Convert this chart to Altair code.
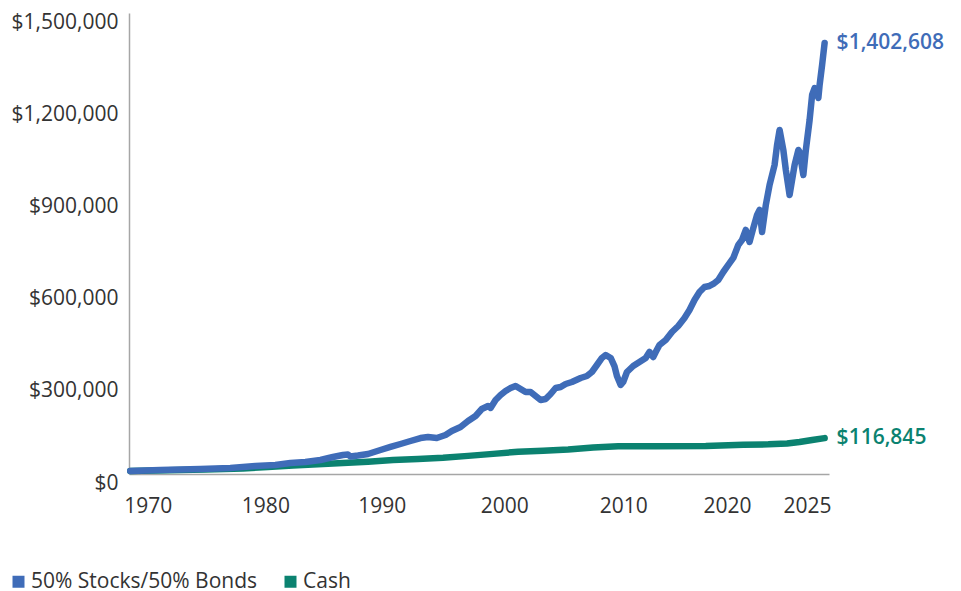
import altair as alt
import pandas as pd

series_names = ["50% Stocks/50% Bonds", "Cash"]
series_colors = ["#3F6CB8", "#0B8270"]

blue_years = [1970.0, 1972.4, 1975.6, 1978.0, 1980.0, 1981.6, 1982.8, 1984.0, 1985.2, 1986.2,
              1987.0, 1987.4, 1987.6, 1988.2, 1989.0, 1990.0, 1990.8, 1991.6, 1992.4, 1993.2,
              1993.8, 1994.5, 1995.2, 1995.7, 1996.4, 1997.0, 1997.6, 1998.1, 1998.6, 1998.8,
              1999.2, 1999.6, 2000.0, 2000.4, 2000.8, 2001.2, 2001.6, 2002.0, 2002.4, 2002.8,
              2003.2, 2003.6, 2004.0, 2004.4, 2004.8, 2005.3, 2006.0, 2006.5, 2006.9, 2007.3,
              2007.7, 2008.0, 2008.4, 2008.7, 2008.9, 2009.2, 2009.4, 2009.7, 2010.2, 2010.7,
              2011.2, 2011.5, 2011.8, 2012.0, 2012.3, 2012.8, 2013.3, 2013.8, 2014.3, 2014.7,
              2015.1, 2015.5, 2015.9, 2016.3, 2016.6, 2017.0, 2017.4, 2017.8, 2018.2, 2018.6,
              2018.9, 2019.2, 2019.5, 2019.8, 2020.1, 2020.3, 2020.5, 2020.8, 2021.1, 2021.5,
              2021.7, 2021.9, 2022.2, 2022.4, 2022.7, 2022.9, 2023.1, 2023.4, 2023.5, 2023.8,
              2024.0, 2024.3, 2024.5, 2024.7, 2025.0, 2025.1, 2025.3, 2025.5]
blue_values = [10000, 13000, 16300, 19500, 26000, 29300, 35800, 39000, 45600, 55300,
               61800, 63500, 57000, 60000, 65100, 78100, 87900, 97600, 107400, 117100,
               120400, 117100, 126900, 139900, 152900, 172500, 188700, 211500, 221300, 215000,
               240800, 257100, 270100, 279800, 286400, 276600, 266800, 266800, 253800, 240800,
               244000, 260300, 279800, 283100, 292900, 299400, 312400, 318900, 331900, 354700,
               377500, 387200, 377500, 351400, 318900, 289600, 299400, 331900, 351400, 364400,
               377500, 397000, 380700, 397000, 419800, 436000, 462100, 481600, 507600, 533700,
               566200, 592200, 608500, 611800, 618300, 631300, 657300, 680100, 702900, 745200,
               761400, 794000, 754900, 800500, 842800, 859100, 787500, 875300, 940400, 1005500,
               1070600, 1119400, 1054300, 989200, 907900, 956700, 1005500, 1054300, 1047800, 973000,
               1054300, 1151900, 1233300, 1256000, 1223500, 1265800, 1330900, 1402608]

cash_years = [1970.0, 1973.0, 1976.0, 1979.0, 1981.0, 1983.0, 1985.0, 1987.0, 1989.0, 1991.0,
              1993.0, 1995.0, 1997.0, 1999.0, 2001.0, 2003.0, 2005.0, 2007.0, 2009.0, 2012.0,
              2016.0, 2019.0, 2021.0, 2022.5, 2023.5, 2024.5, 2025.5]
cash_values = [10000, 12000, 14800, 18000, 22500, 27500, 31500, 35500, 40000, 45500,
               49000, 53000, 59000, 65500, 72500, 76000, 79500, 86000, 90000, 90500,
               91500, 95500, 96500, 99000, 104000, 110500, 116845]

y_ticks = [0, 300000, 600000, 900000, 1200000, 1500000]
x_tick_labels = ["1970", "1980", "1990", "2000", "2010", "2020", "2025"]
x_tick_positions = [1971.4, 1980.8, 1990.1, 1999.9, 2009.4, 2017.7, 2024.1]

df = pd.DataFrame({
    "year": blue_years + cash_years,
    "value": blue_values + cash_values,
    "series": [series_names[0]] * len(blue_years) + [series_names[1]] * len(cash_years),
})
end_df = pd.DataFrame({
    "year": [blue_years[-1], cash_years[-1]],
    "value": [blue_values[-1], cash_values[-1]],
    "series": series_names,
})

FONT = "Open Sans"
TEXT = "#333333"
AXIS_LINE = "#A6A6A6"
FS = 21

label_expr = "[" + ",".join("'%s'" % s for s in x_tick_labels) + "][indexof([" + \
    ",".join(str(v) for v in x_tick_positions) + "], datum.value)]"

color_scale = alt.Scale(domain=series_names, range=series_colors)

x_enc = alt.X("year:Q",
              scale=alt.Scale(domain=[1969.9, 2025.85], nice=False, zero=False),
              axis=alt.Axis(values=x_tick_positions, labelExpr=label_expr, title=None,
                            ticks=False, grid=False, domainColor=AXIS_LINE, domainWidth=1.5,
                            labelFont=FONT, labelFontSize=FS, labelColor=TEXT,
                            labelPadding=21, labelOverlap=False))
y_enc = alt.Y("value:Q",
              scale=alt.Scale(domain=[0, 1500000], nice=False),
              axis=alt.Axis(values=y_ticks, format="$,.0f", title=None, ticks=False,
                            grid=False, domainColor=AXIS_LINE, domainWidth=1.5,
                            labelFont=FONT, labelFontSize=FS, labelColor=TEXT,
                            labelPadding=11, labelOffset=9))

legend = alt.Legend(title=None, orient="none", legendX=-121, legendY=558,
                    direction="horizontal", symbolType="square", symbolSize=36,
                    symbolStrokeWidth=6, symbolOpacity=1, labelFont=FONT, labelFontSize=FS,
                    labelColor=TEXT, labelOffset=2, columnPadding=17, labelLimit=400)

base = alt.Chart(df)
line_props = dict(strokeWidth=6.5, strokeCap="round", strokeJoin="round")

color_enc = alt.Color("series:N", scale=color_scale, legend=legend)

cash_line = base.transform_filter(alt.datum.series == series_names[1]).mark_line(**line_props).encode(
    x=x_enc, y=y_enc, color=color_enc)
blue_line = base.transform_filter(alt.datum.series == series_names[0]).mark_line(**line_props).encode(
    x=x_enc, y=y_enc, color=color_enc)

text_layers = []
for name, col in zip(series_names, series_colors):
    text_layers.append(
        alt.Chart(end_df).transform_filter(alt.datum.series == name).mark_text(
            align="left", baseline="middle", dx=12, fontSize=FS, fontWeight=600,
            font=FONT, color=col).encode(
            x=x_enc, y=y_enc, text=alt.Text("value:Q", format="$,.0f")))

chart = alt.layer(cash_line, blue_line, *text_layers).properties(
    width=700, height=461,
    background="white",
    autosize=alt.AutoSizeParams(type="none"),
    padding={"left": 121, "top": 5, "right": 124, "bottom": 120},
).configure_view(stroke=None)

chart.save("out.html", embed_options={"renderer": "svg", "actions": False})
